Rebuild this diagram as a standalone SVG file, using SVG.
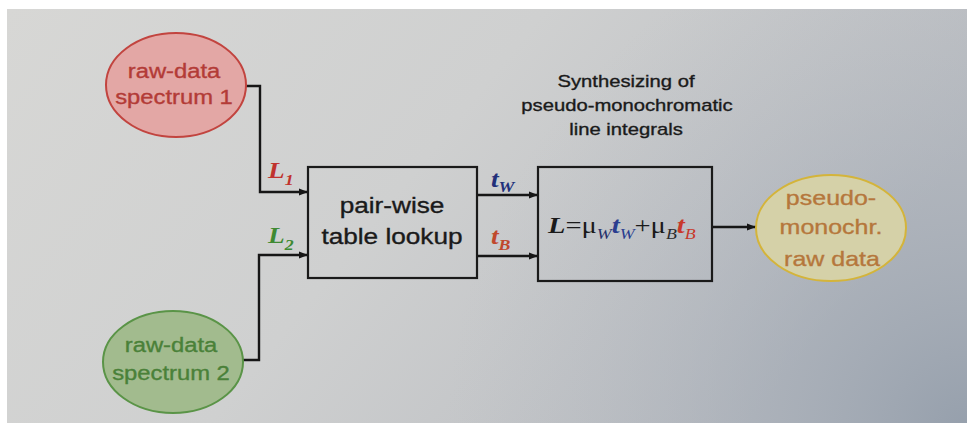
<svg xmlns="http://www.w3.org/2000/svg" width="967" height="432" viewBox="0 0 967 432">
  <defs>
    <linearGradient id="paper" x1="0" y1="0" x2="1" y2="0.35">
      <stop offset="0" stop-color="#d7d7d5"/>
      <stop offset="0.5" stop-color="#cfd0d0"/>
      <stop offset="1" stop-color="#b9bcc1"/>
    </linearGradient>
    <radialGradient id="shade" cx="967" cy="432" r="520" gradientUnits="userSpaceOnUse">
      <stop offset="0" stop-color="#8f9aa8" stop-opacity="0.85"/>
      <stop offset="0.55" stop-color="#a3abb6" stop-opacity="0.35"/>
      <stop offset="1" stop-color="#b4b9c0" stop-opacity="0"/>
    </radialGradient>
    <marker id="arrow" viewBox="0 0 10 8" refX="10" refY="4" markerWidth="9" markerHeight="7.5" markerUnits="userSpaceOnUse" orient="auto">
      <path d="M0,0 L10,4 L0,8 z" fill="#161616"/>
    </marker>
    <style>
      .sans { font-family: "Liberation Sans", Arial, sans-serif; stroke-width: 0.35; }
      .serif { font-family: "Liberation Serif", "Times New Roman", serif; }
      .wire { fill: none; stroke: #161616; stroke-width: 2.4; }
      .arr { marker-end: url(#arrow); }
      .box { fill: none; stroke: #1a1a1a; stroke-width: 2.2; }
      .node-text { font-size: 20px; text-anchor: middle; }
      .bi { font-weight: bold; font-style: italic; }
      .it { font-style: italic; }
    </style>
  </defs>

  <!-- page background -->
  <rect x="0" y="0" width="967" height="432" fill="#ffffff"/>
  <rect x="7" y="9" width="960" height="414" fill="url(#paper)"/>
  <rect x="7" y="9" width="960" height="414" fill="url(#shade)"/>

  <!-- connectors -->
  <g id="connectors">
    <path class="wire arr" d="M245,86 H260 V192 H308"/>
    <path class="wire arr" d="M243,360 H259 V255 H308"/>
    <path class="wire arr" d="M477,195 H538"/>
    <path class="wire arr" d="M477,256 H538"/>
    <path class="wire arr" d="M712,227 H756"/>
    <!-- signal labels -->
    <g transform="translate(268,178) scale(1.19,1)">
      <text class="serif bi" font-size="23" fill="#c0332e">L<tspan font-size="15" dy="7">1</tspan></text>
    </g>
    <g transform="translate(268,243) scale(1.19,1)">
      <text class="serif bi" font-size="23" fill="#3f8a33">L<tspan font-size="15" dy="7">2</tspan></text>
    </g>
    <g transform="translate(491,187) scale(1.19,1)">
      <text class="serif bi" font-size="23" fill="#22307a">t<tspan font-size="15" dy="5">W</tspan></text>
    </g>
    <g transform="translate(491,244) scale(1.19,1)">
      <text class="serif bi" font-size="23" fill="#c0482c">t<tspan font-size="15" dy="6">B</tspan></text>
    </g>
  </g>

  <!-- source spectrum 1 -->
  <g id="spectrum1">
    <ellipse cx="176" cy="85" rx="70" ry="52" fill="#e3a7a5" stroke="#c2443f" stroke-width="2"/>
    <g transform="translate(174,78) scale(1.19,1)">
      <text class="sans node-text" fill="#b33b37" stroke="#b33b37">raw-data</text>
    </g>
    <g transform="translate(174,104) scale(1.19,1)">
      <text class="sans node-text" fill="#b33b37" stroke="#b33b37">spectrum 1</text>
    </g>
  </g>

  <!-- source spectrum 2 -->
  <g id="spectrum2">
    <ellipse cx="173" cy="362" rx="70" ry="51" fill="#a2bb8e" stroke="#5a9447" stroke-width="2"/>
    <g transform="translate(171,352) scale(1.19,1)">
      <text class="sans node-text" fill="#4a8139" stroke="#4a8139">raw-data</text>
    </g>
    <g transform="translate(171,380) scale(1.19,1)">
      <text class="sans node-text" fill="#4a8139" stroke="#4a8139">spectrum 2</text>
    </g>
  </g>

  <!-- lookup stage -->
  <g id="lookup">
    <rect class="box" x="308" y="167" width="169" height="111"/>
    <g transform="translate(392,213) scale(1.19,1)">
      <text class="sans" font-size="22" text-anchor="middle" fill="#1a1a1a" stroke="#1a1a1a">pair-wise</text>
    </g>
    <g transform="translate(392,244) scale(1.19,1)">
      <text class="sans" font-size="22" text-anchor="middle" fill="#1a1a1a" stroke="#1a1a1a">table lookup</text>
    </g>
  </g>

  <!-- synthesis stage -->
  <g id="synthesis">
    <g transform="translate(626,87) scale(1.19,1)">
      <text class="sans" font-size="17" text-anchor="middle" fill="#1a1a1a" stroke="#1a1a1a">Synthesizing of</text>
    </g>
    <g transform="translate(627,111) scale(1.19,1)">
      <text class="sans" font-size="17" text-anchor="middle" fill="#1a1a1a" stroke="#1a1a1a">pseudo-monochromatic</text>
    </g>
    <g transform="translate(626,135) scale(1.19,1)">
      <text class="sans" font-size="17" text-anchor="middle" fill="#1a1a1a" stroke="#1a1a1a">line integrals</text>
    </g>
    <rect class="box" x="538" y="167" width="174" height="114"/>
    <g transform="translate(548,233) scale(1.19,1)">
      <text class="serif" font-size="24" fill="#1a1a1a"><tspan class="bi">L</tspan>=μ<tspan class="it" font-size="15" dy="6" fill="#26306a">W</tspan><tspan class="bi" dy="-6" fill="#2a3d8f">t</tspan><tspan class="it" font-size="15" dy="6" fill="#2a3d8f">W</tspan><tspan dy="-6">+μ</tspan><tspan class="it" font-size="15" dy="6" fill="#2a2a2a">B</tspan><tspan class="bi" dy="-6" fill="#c8382a">t</tspan><tspan class="it" font-size="15" dy="6" fill="#c8382a">B</tspan></text>
    </g>
  </g>

  <!-- output -->
  <g id="output">
    <ellipse cx="831" cy="228" rx="75" ry="53" fill="#d5d1a8" stroke="#d4b43a" stroke-width="2"/>
    <g transform="translate(831,205) scale(1.19,1)">
      <text class="sans" font-size="21" text-anchor="middle" fill="#b5773c" stroke="#b5773c">pseudo-</text>
    </g>
    <g transform="translate(831,234) scale(1.19,1)">
      <text class="sans" font-size="21" text-anchor="middle" fill="#b5773c" stroke="#b5773c">monochr.</text>
    </g>
    <g transform="translate(832,266) scale(1.19,1)">
      <text class="sans" font-size="21" text-anchor="middle" fill="#b5773c" stroke="#b5773c">raw data</text>
    </g>
  </g>
</svg>
